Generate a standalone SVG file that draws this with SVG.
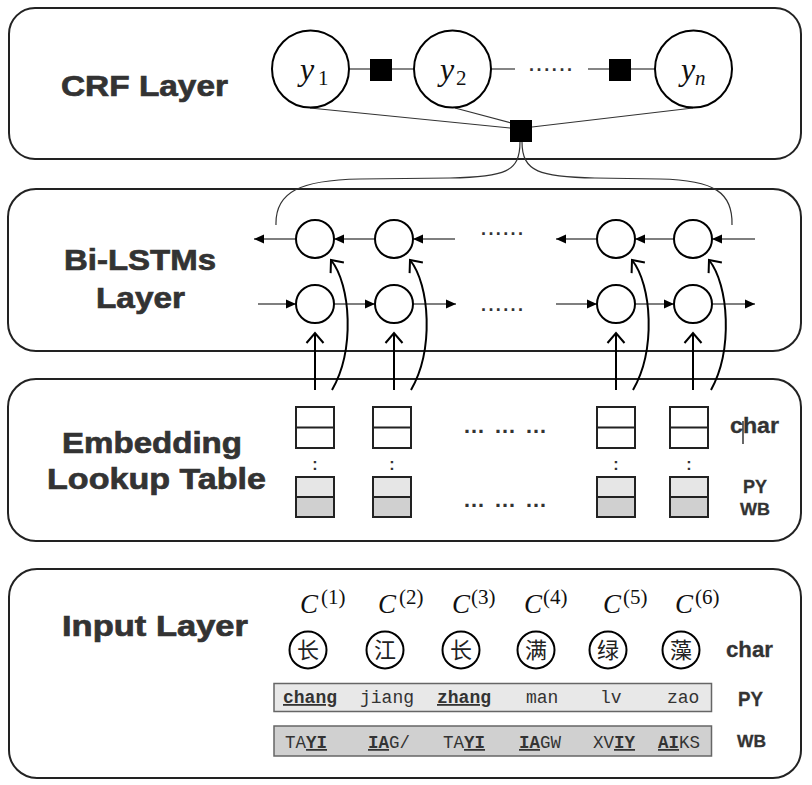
<svg xmlns="http://www.w3.org/2000/svg" width="812" height="785" viewBox="0 0 812 785">
<defs>
<style>
.layer{fill:#fff;stroke:#222;stroke-width:2}
.ttl{font-family:"Liberation Sans",Arial,sans-serif;font-weight:bold;font-size:30px;fill:#333;stroke:#333;stroke-width:0.7}
.lbl{font-family:"Liberation Sans",Arial,sans-serif;font-weight:bold;fill:#333;stroke:#333;stroke-width:0.3}
.node{fill:#fff;stroke:#000;stroke-width:2}
.sq{fill:#000}
.thin{stroke:#333;stroke-width:1.2;fill:none}
.hl{stroke:#555;stroke-width:1.6;fill:none}
.up{stroke:#000;stroke-width:2;fill:none}
.math{font-family:"Liberation Serif","Times New Roman",serif;fill:#111}
.dots{font-family:"Liberation Sans",Arial,sans-serif;fill:#333}
.emb{stroke:#222;stroke-width:2}
.mono{font-family:"Liberation Mono","Courier New",monospace;fill:#333}
.cjk{font-family:"Noto Sans CJK SC","Noto Sans",sans-serif;font-size:22px;fill:#222;text-anchor:middle}
.b{font-weight:bold;text-decoration:underline;fill:#333}
</style>
<marker id="tri" markerUnits="userSpaceOnUse" markerWidth="11" markerHeight="10" refX="10" refY="4.5" orient="auto" overflow="visible">
<path d="M0,0 L10,4.5 L0,9 Z" fill="#000"/>
</marker>
<marker id="open" markerUnits="userSpaceOnUse" markerWidth="12" markerHeight="20" refX="10" refY="8.5" orient="auto" overflow="visible">
<path d="M0,0 L10,8.5 L0,17" fill="none" stroke="#000" stroke-width="2"/>
</marker>
</defs>
<rect width="812" height="785" fill="#fff"/>

<g id="crf-layer">
<rect class="layer" x="9" y="8" width="792" height="151" rx="26"/>
<text class="ttl" x="61" y="96" textLength="167" lengthAdjust="spacingAndGlyphs">CRF Layer</text>
</g>
<g id="bilstm-layer">
<rect class="layer" x="8" y="189" width="793" height="162" rx="28"/>
<text class="ttl" x="64" y="270" textLength="152" lengthAdjust="spacingAndGlyphs">Bi-LSTMs</text>
<text class="ttl" x="96" y="308" textLength="89" lengthAdjust="spacingAndGlyphs">Layer</text>
</g>
<g id="embedding-layer">
<rect class="layer" x="8" y="379" width="793" height="162" rx="28"/>
<text class="ttl" x="62" y="453" textLength="180" lengthAdjust="spacingAndGlyphs">Embedding</text>
<text class="ttl" x="47" y="489" textLength="219" lengthAdjust="spacingAndGlyphs">Lookup Table</text>
</g>
<g id="input-layer">
<rect class="layer" x="9" y="569" width="792" height="209" rx="28"/>
<text class="ttl" x="62" y="636" textLength="186" lengthAdjust="spacingAndGlyphs">Input Layer</text>
</g>

<g id="connectors">
<line class="thin" x1="349" y1="69" x2="370" y2="69"/>
<line class="thin" x1="392" y1="69" x2="414" y2="69"/>
<line class="thin" x1="491" y1="69" x2="515" y2="69"/>
<line class="thin" x1="588" y1="69" x2="609" y2="69"/>
<line class="thin" x1="631" y1="69" x2="655" y2="69"/>
<line class="thin" x1="310" y1="108" x2="510" y2="128"/>
<line class="thin" x1="455" y1="108" x2="511" y2="123"/>
<line class="thin" x1="693" y1="108" x2="532" y2="127"/>
<path class="thin" stroke-width="1.5" d="M520 142 C520 172 505 177 450 178 L360 179 C300 180 275 192 276 225"/>
<path class="thin" stroke-width="1.5" d="M522 142 C522 172 540 177 595 178 L660 179 C715 180 733 193 732 225"/>
<line class="hl" x1="296" y1="239" x2="254" y2="239" marker-end="url(#tri)"/>
<line class="hl" x1="375" y1="239" x2="334" y2="239" marker-end="url(#tri)"/>
<line class="hl" x1="455" y1="239" x2="413" y2="239" marker-end="url(#tri)"/>
<line class="hl" x1="597" y1="239" x2="556" y2="239" marker-end="url(#tri)"/>
<line class="hl" x1="674" y1="239" x2="635" y2="239" marker-end="url(#tri)"/>
<line class="hl" x1="755" y1="239" x2="712" y2="239" marker-end="url(#tri)"/>
<line class="hl" x1="258" y1="304" x2="296" y2="304" marker-end="url(#tri)"/>
<line class="hl" x1="334" y1="304" x2="375" y2="304" marker-end="url(#tri)"/>
<line class="hl" x1="413" y1="304" x2="456" y2="304" marker-end="url(#tri)"/>
<line class="hl" x1="556" y1="304" x2="597" y2="304" marker-end="url(#tri)"/>
<line class="hl" x1="635" y1="304" x2="674" y2="304" marker-end="url(#tri)"/>
<line class="hl" x1="712" y1="304" x2="755" y2="304" marker-end="url(#tri)"/>
<line class="up" x1="315" y1="390" x2="315" y2="333" marker-end="url(#open)"/>
<line class="up" x1="394" y1="390" x2="394" y2="333" marker-end="url(#open)"/>
<line class="up" x1="616" y1="390" x2="616" y2="333" marker-end="url(#open)"/>
<line class="up" x1="693" y1="390" x2="693" y2="333" marker-end="url(#open)"/>
<path class="up" d="M332 390 C355 350 351 285 331 260" marker-end="url(#open)"/>
<path class="up" d="M411 390 C434 350 430 285 410 260" marker-end="url(#open)"/>
<path class="up" d="M633 390 C656 350 652 285 632 260" marker-end="url(#open)"/>
<path class="up" d="M711 390 C733 350 729 285 709 260" marker-end="url(#open)"/>
</g>

<g id="crf-nodes">
<g id="y1"><circle class="node" cx="310.5" cy="69" r="38.5"/>
<text class="math" x="300" y="80" font-size="32" font-style="italic">y</text><text class="math" x="318" y="85" font-size="21">1</text></g>
<g id="y2"><circle class="node" cx="452.5" cy="69" r="38.5"/>
<text class="math" x="440" y="80" font-size="32" font-style="italic">y</text><text class="math" x="456" y="85" font-size="21">2</text></g>
<g id="yn"><circle class="node" cx="693.5" cy="69" r="38.5"/>
<text class="math" x="681" y="80" font-size="32" font-style="italic">y</text><text class="math" x="695" y="85" font-size="21" font-style="italic">n</text></g>
<rect id="f1" class="sq" x="370" y="59" width="22" height="22"/>
<rect id="f2" class="sq" x="609" y="59" width="22" height="22"/>
<rect id="f3" class="sq" x="510" y="120" width="22" height="22"/>
<text class="dots" x="529" y="71" font-size="18" font-weight="bold" textLength="43" lengthAdjust="spacing">......</text>
</g>

<g id="lstm-nodes">
<circle class="node" cx="315" cy="239" r="19"/>
<circle class="node" cx="394" cy="239" r="19"/>
<circle class="node" cx="616" cy="239" r="19"/>
<circle class="node" cx="693" cy="239" r="19"/>
<circle class="node" cx="315" cy="304" r="19"/>
<circle class="node" cx="394" cy="304" r="19"/>
<circle class="node" cx="616" cy="304" r="19"/>
<circle class="node" cx="693" cy="304" r="19"/>
<text class="dots" x="481" y="235" font-size="18" font-weight="bold" textLength="42" lengthAdjust="spacing">......</text>
<text class="dots" x="481" y="311" font-size="18" font-weight="bold" textLength="42" lengthAdjust="spacing">......</text>
</g>

<g id="embedding-tables">
<g id="e1">
<rect x="296" y="407" width="38" height="41" fill="#fff" class="emb"/><line class="emb" x1="296" y1="427.5" x2="334" y2="427.5"/>
<rect x="296" y="477" width="38" height="20" fill="#e6e6e6" class="emb"/><rect x="296" y="497" width="38" height="20" fill="#d0d0d0" class="emb"/>
<text class="dots" x="315" y="470" font-size="16" font-weight="bold" text-anchor="middle">:</text></g>
<g id="e2">
<rect x="373" y="407" width="38" height="41" fill="#fff" class="emb"/><line class="emb" x1="373" y1="427.5" x2="411" y2="427.5"/>
<rect x="373" y="477" width="38" height="20" fill="#e6e6e6" class="emb"/><rect x="373" y="497" width="38" height="20" fill="#d0d0d0" class="emb"/>
<text class="dots" x="392" y="470" font-size="16" font-weight="bold" text-anchor="middle">:</text></g>
<g id="e3">
<rect x="597" y="407" width="38" height="41" fill="#fff" class="emb"/><line class="emb" x1="597" y1="427.5" x2="635" y2="427.5"/>
<rect x="597" y="477" width="38" height="20" fill="#e6e6e6" class="emb"/><rect x="597" y="497" width="38" height="20" fill="#d0d0d0" class="emb"/>
<text class="dots" x="616" y="470" font-size="16" font-weight="bold" text-anchor="middle">:</text></g>
<g id="e4">
<rect x="670" y="407" width="38" height="41" fill="#fff" class="emb"/><line class="emb" x1="670" y1="427.5" x2="708" y2="427.5"/>
<rect x="670" y="477" width="38" height="20" fill="#e6e6e6" class="emb"/><rect x="670" y="497" width="38" height="20" fill="#d0d0d0" class="emb"/>
<text class="dots" x="689" y="470" font-size="16" font-weight="bold" text-anchor="middle">:</text></g>
<text class="dots" x="463" y="433" font-size="22" font-weight="bold" textLength="84" lengthAdjust="spacing">… … …</text>
<text class="dots" x="463" y="507" font-size="22" font-weight="bold" textLength="84" lengthAdjust="spacing">… … …</text>
<text class="lbl" x="730" y="433" font-size="22" textLength="49" lengthAdjust="spacingAndGlyphs">char</text>
<line x1="743" y1="421" x2="743" y2="444" stroke="#000" stroke-width="1.2"/>
<text class="lbl" x="743" y="493" font-size="19" textLength="24" lengthAdjust="spacingAndGlyphs">PY</text>
<text class="lbl" x="740" y="515" font-size="17" textLength="30" lengthAdjust="spacingAndGlyphs">WB</text>
</g>

<g id="input-chars">
<g class="math" font-size="27">
<text x="300" y="613" font-style="italic">C</text><text x="321" y="604" font-size="21">(1)</text>
<text x="378" y="613" font-style="italic">C</text><text x="399" y="604" font-size="21">(2)</text>
<text x="452" y="613" font-style="italic">C</text><text x="471" y="604" font-size="21">(3)</text>
<text x="524" y="613" font-style="italic">C</text><text x="543" y="604" font-size="21">(4)</text>
<text x="603" y="613" font-style="italic">C</text><text x="623" y="604" font-size="21">(5)</text>
<text x="675" y="613" font-style="italic">C</text><text x="695" y="604" font-size="21">(6)</text>
</g>
<g id="c1"><circle class="node" cx="308" cy="650" r="18.5"/><text class="cjk" x="308" y="658">长</text></g>
<g id="c2"><circle class="node" cx="385" cy="650" r="18.5"/><text class="cjk" x="385" y="658">江</text></g>
<g id="c3"><circle class="node" cx="461" cy="650" r="18.5"/><text class="cjk" x="461" y="658">长</text></g>
<g id="c4"><circle class="node" cx="536" cy="650" r="18.5"/><text class="cjk" x="536" y="658">满</text></g>
<g id="c5"><circle class="node" cx="608" cy="650" r="18.5"/><text class="cjk" x="608" y="658">绿</text></g>
<g id="c6"><circle class="node" cx="681" cy="650" r="18.5"/><text class="cjk" x="681" y="658">藻</text></g>
<text class="lbl" x="726" y="657" font-size="22" textLength="47" lengthAdjust="spacingAndGlyphs">char</text>
</g>

<g id="pinyin-row">
<rect x="274" y="683.5" width="437.5" height="28" fill="#e8e8e8" stroke="#666" stroke-width="1.5"/>
<g class="mono" font-size="18">
<text x="283" y="703" class="b">chang</text>
<text x="360" y="703">jiang</text>
<text x="437" y="703" class="b">zhang</text>
<text x="526" y="703">man</text>
<text x="600" y="703">lv</text>
<text x="667" y="703">zao</text>
</g>
<text class="lbl" x="738" y="706" font-size="20" textLength="25" lengthAdjust="spacingAndGlyphs">PY</text>
</g>

<g id="wubi-row">
<rect x="274" y="726" width="437.5" height="30" fill="#d0d0d0" stroke="#666" stroke-width="1.5"/>
<g class="mono" font-size="17.5" fill="#555">
<text x="285" y="748">TA<tspan class="b">YI</tspan></text>
<text x="368" y="748"><tspan class="b">IA</tspan>G/</text>
<text x="443" y="748">TA<tspan class="b">YI</tspan></text>
<text x="519" y="748"><tspan class="b">IA</tspan>GW</text>
<text x="593" y="748">XV<tspan class="b">IY</tspan></text>
<text x="658" y="748"><tspan class="b">AI</tspan>KS</text>
</g>
<text class="lbl" x="737" y="747" font-size="17" textLength="29" lengthAdjust="spacingAndGlyphs">WB</text>
</g>
</svg>
